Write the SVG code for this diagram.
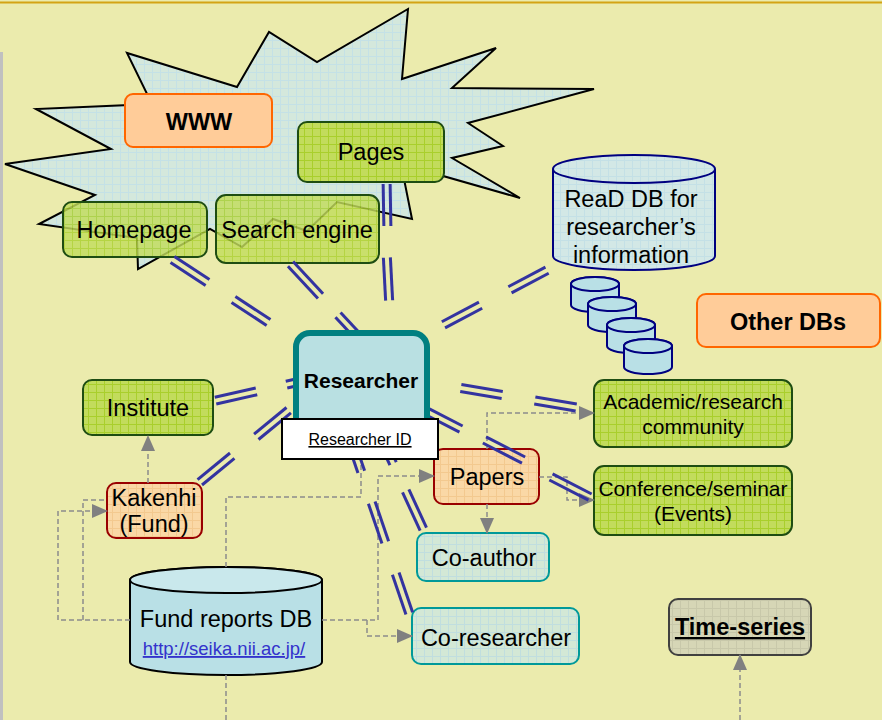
<svg xmlns="http://www.w3.org/2000/svg" width="882" height="720" viewBox="0 0 882 720">
<defs>
  <pattern id="pg" width="8" height="8" patternUnits="userSpaceOnUse"><rect width="8" height="8" fill="#C2DC5C"/><path d="M0 0.5H8M0.5 0V8" stroke="#A9CF2C" stroke-width="1"/></pattern>
  <pattern id="po" width="8" height="8" patternUnits="userSpaceOnUse"><rect width="8" height="8" fill="#FAD8A6"/><path d="M0 0.5H8M0.5 0V8" stroke="#F3C98F" stroke-width="1"/></pattern>
  <pattern id="pt" width="8" height="8" patternUnits="userSpaceOnUse"><rect width="8" height="8" fill="#D3E8D6"/><path d="M0 0.5H8M0.5 0V8" stroke="#C0DEDF" stroke-width="1"/></pattern>
  <pattern id="ps" width="8" height="8" patternUnits="userSpaceOnUse"><rect width="8" height="8" fill="#D4E8DC"/><path d="M0 0.5H8M0.5 0V8" stroke="#C4E1E6" stroke-width="1"/></pattern>
  <pattern id="pb" width="8" height="8" patternUnits="userSpaceOnUse"><rect width="8" height="8" fill="#D3E8E6"/><path d="M0 0.5H8M0.5 0V8" stroke="#C4E0E6" stroke-width="1"/></pattern>
  <pattern id="pgr" width="8" height="8" patternUnits="userSpaceOnUse"><rect width="8" height="8" fill="#D6D6B6"/><path d="M0 0.5H8M0.5 0V8" stroke="#C8C8AA" stroke-width="1"/></pattern>
  <marker id="ah" markerUnits="userSpaceOnUse" markerWidth="16" markerHeight="14" refX="15" refY="7" orient="auto"><path d="M0,0 L16,7 L0,14 z" fill="#808080"/></marker>
  <g id="dbl"><line x1="-0.5" y1="-3.5" x2="0.5" y2="-3.5"/><line x1="-0.5" y1="3.5" x2="0.5" y2="3.5"/></g>
</defs>
<style>
  .t{font-family:"Liberation Sans",Arial,sans-serif;font-size:23.5px;fill:#000;text-anchor:middle}
  .b{font-weight:bold}
  .gn{fill:url(#pg);stroke:#1E4D12;stroke-width:2}
  .or{fill:#FFCC99;stroke:#FF6600;stroke-width:2}
  .fd{fill:url(#po);stroke:#990000;stroke-width:2}
  .tl{fill:url(#pt);stroke:#009999;stroke-width:2}
  .db{fill:#B9E0E6;stroke:#000080;stroke-width:2}
  .gd{fill:none;stroke:#8C8C8C;stroke-width:1.5;stroke-dasharray:5 3}
  .dl{stroke:#3333A0;stroke-width:3}
</style>

<rect width="882" height="720" fill="#EBEBAD"/>
<line x1="0" y1="2.5" x2="882" y2="2.5" stroke="#D4A414" stroke-width="2"/>
<rect x="0" y="52" width="3" height="668" fill="#C0C0C0"/>

<g id="www-cloud">
  <polygon points="5,164 111,149 36,109 152,104 127,53 237,87 269,32 317,62 408,9 402,79 496,48 452,88 594,89 468,123 503,146 452,158 520,198 401,164 412,219 337,202 307,231 273,219 242,247 210,229 138,269 137,238 39,224 95,195" fill="url(#ps)" stroke="#000" stroke-width="2" stroke-linejoin="miter"/>
</g>

<g id="homepage">
  <rect class="gn" x="63" y="202" width="144" height="55" rx="9" fill-opacity="0.82"/>
  <text class="t" x="134" y="238">Homepage</text>
</g>
<g id="search-engine">
  <rect class="gn" x="216" y="195" width="163" height="68" rx="10" fill-opacity="0.82"/>
  <text class="t" x="297" y="238">Search engine</text>
</g>

<g id="www">
  <rect class="or" x="125" y="94" width="147" height="53" rx="8"/>
  <text class="t b" x="199" y="130">WWW</text>
</g>
<g id="pages">
  <rect class="gn" x="298" y="122" width="146" height="60" rx="9"/>
  <text class="t" x="371" y="160">Pages</text>
</g>

<g id="read-db">
  <path d="M553,169 A81,14 0 0 1 715,169 V256 A81,14 0 0 1 553,256 Z" fill="url(#pb)" stroke="#000080" stroke-width="2"/>
  <path d="M553,169 A81,14 0 0 0 715,169" fill="none" stroke="#000080" stroke-width="2"/>
  <text class="t" x="631" y="206.5">ReaD DB for</text>
  <text class="t" x="631" y="235">researcher’s</text>
  <text class="t" x="631" y="263">information</text>
</g>

<g id="db-stack">
  <path class="db" d="M571,284 A24,7 0 0 1 619,284 V305 A24,7 0 0 1 571,305 Z"/>
  <ellipse class="db" cx="595" cy="284" rx="24" ry="7" fill="#C9E7EC"/>
  <path class="db" d="M588,304 A24,7 0 0 1 636,304 V325 A24,7 0 0 1 588,325 Z"/>
  <ellipse class="db" cx="612" cy="304" rx="24" ry="7" fill="#C9E7EC"/>
  <path class="db" d="M607,325 A24,7 0 0 1 655,325 V346 A24,7 0 0 1 607,346 Z"/>
  <ellipse class="db" cx="631" cy="325" rx="24" ry="7" fill="#C9E7EC"/>
  <path class="db" d="M624,346 A24,7 0 0 1 672,346 V367 A24,7 0 0 1 624,367 Z"/>
  <ellipse class="db" cx="648" cy="346" rx="24" ry="7" fill="#C9E7EC"/>
</g>

<g id="other-dbs">
  <rect class="or" x="697" y="294" width="183" height="53" rx="9"/>
  <text class="t b" x="788" y="330">Other DBs</text>
</g>

<g id="institute">
  <rect class="gn" x="83" y="380" width="130" height="55" rx="9"/>
  <text class="t" x="148" y="416">Institute</text>
</g>

<g id="kakenhi">
  <rect class="fd" x="107" y="483" width="95" height="55" rx="9"/>
  <text class="t" x="154" y="506">Kakenhi</text>
  <text class="t" x="154" y="532">(Fund)</text>
</g>

<g id="fund-reports-db">
  <path d="M130,580 A96,13 0 0 1 322,580 V662 A96,13 0 0 1 130,662 Z" fill="#B9E0E6" stroke="#000" stroke-width="2"/>
  <ellipse cx="226" cy="580" rx="96" ry="13" fill="#C9E8EC" stroke="#000" stroke-width="2"/>
  <text class="t" x="226" y="627">Fund reports DB</text>
  <text class="t" x="224" y="655" style="font-size:18.5px;fill:#3333CC" text-decoration="underline">http://seika.nii.ac.jp/</text>
</g>

<g id="papers">
  <rect class="fd" x="434" y="449" width="105" height="55" rx="9"/>
  <text class="t" x="487" y="485">Papers</text>
</g>

<g id="co-author">
  <rect class="tl" x="417" y="533" width="132" height="48" rx="9"/>
  <text class="t" x="484" y="566">Co-author</text>
</g>

<g id="co-researcher">
  <rect class="tl" x="412" y="608" width="167" height="56" rx="9"/>
  <text class="t" x="496" y="646">Co-researcher</text>
</g>

<g id="academic-community">
  <rect class="gn" x="594" y="380" width="198" height="67" rx="10"/>
  <text class="t" x="693" y="409" style="font-size:21px">Academic/research</text>
  <text class="t" x="693" y="434" style="font-size:21px">community</text>
</g>

<g id="conference-seminar">
  <rect class="gn" x="594" y="466" width="198" height="69" rx="10"/>
  <text class="t" x="693" y="496" style="font-size:21px">Conference/seminar</text>
  <text class="t" x="693" y="521" style="font-size:21px">(Events)</text>
</g>

<g id="time-series">
  <rect x="669" y="599" width="142" height="56" rx="9" fill="url(#pgr)" stroke="#404040" stroke-width="2"/>
  <text class="t b" x="740" y="635" text-decoration="underline">Time-series</text>
</g>

<g id="connectors">
  <path class="gd" d="M148,483 V436" marker-end="url(#ah)"/>
  <path class="gd" d="M130,620 H58 V511 H107" marker-end="url(#ah)"/>
  <path class="gd" d="M83,620 V500 H107"/>
  <path class="gd" d="M226,567 V497 H361 V459"/>
  <path class="gd" d="M322,620 H378 V476 H434" marker-end="url(#ah)"/>
  <path class="gd" d="M367,620 V636 H412" marker-end="url(#ah)"/>
  <path class="gd" d="M226,675 V720"/>
  <path class="gd" d="M487,449 V413 H594" marker-end="url(#ah)"/>
  <path class="gd" d="M539,477 H567 V500 H594" marker-end="url(#ah)"/>
  <path class="gd" d="M487,504 V533" marker-end="url(#ah)"/>
  <path class="gd" d="M740,720 V655" marker-end="url(#ah)"/>
  <g class="dl">
    <use href="#dbl" transform="translate(190 271) rotate(33.3) scale(42 1)"/>
    <use href="#dbl" transform="translate(251 311) rotate(33.3) scale(42 1)"/>
    <use href="#dbl" transform="translate(305.5 280) rotate(47) scale(44 1)"/>
    <use href="#dbl" transform="translate(353 331) rotate(47) scale(44 1)"/>
    <use href="#dbl" transform="translate(387 205) rotate(89) scale(42 1)"/>
    <use href="#dbl" transform="translate(388 279) rotate(87) scale(43 1)"/>
    <use href="#dbl" transform="translate(528.5 280) rotate(-27.9) scale(42 1)"/>
    <use href="#dbl" transform="translate(462 315) rotate(-27.9) scale(42 1)"/>
    <use href="#dbl" transform="translate(236 396) rotate(-12.7) scale(42 1)"/>
    <use href="#dbl" transform="translate(307 380) rotate(-12.7) scale(42 1)"/>
    <use href="#dbl" transform="translate(216 469) rotate(-39.4) scale(42 1)"/>
    <use href="#dbl" transform="translate(272.5 423.5) rotate(-39.4) scale(42 1)"/>
    <use href="#dbl" transform="translate(481.5 391.5) rotate(9.6) scale(42 1)"/>
    <use href="#dbl" transform="translate(555.5 404) rotate(9.6) scale(42 1)"/>
    <use href="#dbl" transform="translate(441.5 419) rotate(27.3) scale(44 1)"/>
    <use href="#dbl" transform="translate(504 450) rotate(27.3) scale(44 1)"/>
    <use href="#dbl" transform="translate(570.5 487) rotate(27.3) scale(44 1)"/>
    <use href="#dbl" transform="translate(384.3 444.6) rotate(65.2) scale(42 1)"/>
    <use href="#dbl" transform="translate(414.5 510) rotate(65.2) scale(42 1)"/>
    <use href="#dbl" transform="translate(354.5 452) rotate(71.2) scale(42 1)"/>
    <use href="#dbl" transform="translate(378.5 522.5) rotate(71.2) scale(42 1)"/>
    <use href="#dbl" transform="translate(402.5 593.5) rotate(71.2) scale(42 1)"/>
  </g>
</g>

<g id="researcher">
  <rect x="296" y="333" width="131" height="100" rx="14" fill="#B9E0E2" stroke="#008080" stroke-width="6"/>
  <text class="t b" x="361" y="388" style="font-size:21px">Researcher</text>
</g>
<g id="researcher-id">
  <rect x="282" y="419" width="156" height="40" fill="#FFFFFF" stroke="#000" stroke-width="2"/>
  <text class="t" x="360" y="445" style="font-size:16px" text-decoration="underline">Researcher ID</text>
</g>
</svg>
